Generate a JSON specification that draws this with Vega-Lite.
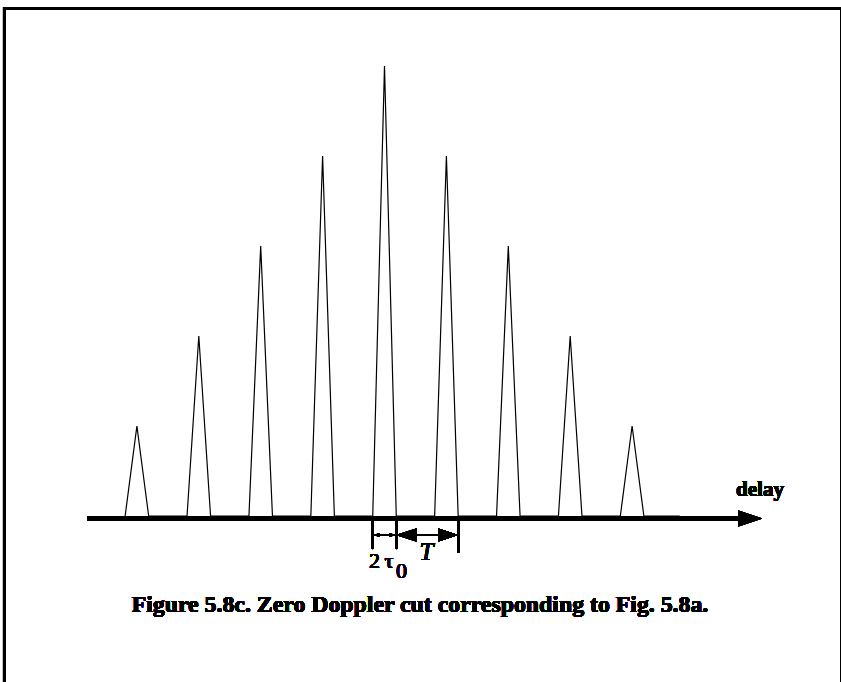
{
  "$schema": "https://vega.github.io/schema/vega-lite/v6.json",
  "width": 841,
  "height": 682,
  "autosize": {"type": "fit", "contains": "padding"},
  "padding": 0,
  "background": "white",
  "config": {"view": {"stroke": null}},
  "data": {
    "values": [
      {"delay": -4.19, "amplitude": 0},
      {"delay": -4.0, "amplitude": 1},
      {"delay": -3.81, "amplitude": 0},
      {"delay": -3.19, "amplitude": 0},
      {"delay": -3.0, "amplitude": 2},
      {"delay": -2.81, "amplitude": 0},
      {"delay": -2.19, "amplitude": 0},
      {"delay": -2.0, "amplitude": 3},
      {"delay": -1.81, "amplitude": 0},
      {"delay": -1.19, "amplitude": 0},
      {"delay": -1.0, "amplitude": 4},
      {"delay": -0.81, "amplitude": 0},
      {"delay": -0.19, "amplitude": 0},
      {"delay": 0.0, "amplitude": 5},
      {"delay": 0.19, "amplitude": 0},
      {"delay": 0.81, "amplitude": 0},
      {"delay": 1.0, "amplitude": 4},
      {"delay": 1.19, "amplitude": 0},
      {"delay": 1.81, "amplitude": 0},
      {"delay": 2.0, "amplitude": 3},
      {"delay": 2.19, "amplitude": 0},
      {"delay": 2.81, "amplitude": 0},
      {"delay": 3.0, "amplitude": 2},
      {"delay": 3.19, "amplitude": 0},
      {"delay": 3.81, "amplitude": 0},
      {"delay": 4.0, "amplitude": 1},
      {"delay": 4.19, "amplitude": 0},
      {"delay": 4.77, "amplitude": 0}
    ]
  },
  "resolve": {"scale": {"x": "shared", "y": "shared"}},
  "layer": [
    {
      "description": "figure frame: left edge",
      "mark": {"type": "rule", "color": "black", "strokeWidth": 3, "clip": true},
      "encoding": {
        "x": {"datum": -6.139, "type": "quantitative", "scale": {"domain": [-6.2116, 7.3748], "nice": false, "zero": false}, "axis": null},
        "y": {"datum": 5.656, "type": "quantitative", "scale": {"domain": [-1.8444, 5.7333], "nice": false, "zero": false}, "axis": null},
        "y2": {"datum": -1.95}
      }
    },
    {
      "description": "figure frame: top edge",
      "mark": {"type": "rule", "color": "black", "strokeWidth": 3, "clip": true},
      "encoding": {
        "x": {"datum": -6.163, "type": "quantitative"},
        "x2": {"datum": 7.40},
        "y": {"datum": 5.639, "type": "quantitative"}
      }
    },
    {
      "description": "figure frame: right edge",
      "mark": {"type": "rule", "color": "black", "strokeWidth": 3, "clip": true},
      "encoding": {
        "x": {"datum": 7.383, "type": "quantitative"},
        "y": {"datum": 5.656, "type": "quantitative"},
        "y2": {"datum": -1.95}
      }
    },
    {
      "description": "delay axis line",
      "mark": {"type": "rule", "color": "black", "strokeWidth": 3.3, "clip": true},
      "encoding": {
        "x": {"datum": -4.806, "type": "quantitative"},
        "x2": {"datum": 6.0},
        "y": {"datum": -0.028, "type": "quantitative"}
      }
    },
    {
      "description": "delay axis arrowhead",
      "mark": {"type": "point", "shape": "M0,0L-2,-0.667L-2,0.667Z", "size": 576, "filled": true, "color": "black", "opacity": 1, "strokeWidth": 0, "clip": true},
      "encoding": {
        "x": {"datum": 6.099, "type": "quantitative"},
        "y": {"datum": -0.028, "type": "quantitative"}
      }
    },
    {
      "description": "zero Doppler cut: triangular pulse train",
      "mark": {"type": "line", "color": "black", "strokeWidth": 1.2, "clip": true},
      "encoding": {
        "x": {"field": "delay", "type": "quantitative"},
        "y": {"field": "amplitude", "type": "quantitative"}
      }
    },
    {
      "description": "dimension ticks",
      "mark": {"type": "rule", "color": "black", "strokeWidth": 2, "clip": true},
      "encoding": {
        "x": {"datum": -0.19, "type": "quantitative"},
        "y": {"datum": -0.056, "type": "quantitative"},
        "y2": {"datum": -0.367}
      }
    },
    {
      "mark": {"type": "rule", "color": "black", "strokeWidth": 2, "clip": true},
      "encoding": {
        "x": {"datum": 0.19, "type": "quantitative"},
        "y": {"datum": -0.056, "type": "quantitative"},
        "y2": {"datum": -0.367}
      }
    },
    {
      "mark": {"type": "rule", "color": "black", "strokeWidth": 2, "clip": true},
      "encoding": {
        "x": {"datum": 1.19, "type": "quantitative"},
        "y": {"datum": -0.056, "type": "quantitative"},
        "y2": {"datum": -0.411}
      }
    },
    {
      "description": "pulse width dimension (2 tau0)",
      "mark": {"type": "rule", "color": "black", "strokeWidth": 1, "clip": true},
      "encoding": {
        "x": {"datum": -0.19, "type": "quantitative"},
        "x2": {"datum": 0.19},
        "y": {"datum": -0.211, "type": "quantitative"}
      }
    },
    {
      "mark": {"type": "point", "shape": "M0,0L2,-0.67L2,0.67Z", "size": 36, "filled": true, "color": "black", "opacity": 1, "strokeWidth": 0, "clip": true},
      "encoding": {
        "x": {"datum": -0.175, "type": "quantitative"},
        "y": {"datum": -0.211, "type": "quantitative"}
      }
    },
    {
      "mark": {"type": "point", "shape": "M0,0L-2,-0.67L-2,0.67Z", "size": 36, "filled": true, "color": "black", "opacity": 1, "strokeWidth": 0, "clip": true},
      "encoding": {
        "x": {"datum": 0.175, "type": "quantitative"},
        "y": {"datum": -0.211, "type": "quantitative"}
      }
    },
    {
      "description": "pulse period dimension (T)",
      "mark": {"type": "rule", "color": "black", "strokeWidth": 2, "clip": true},
      "encoding": {
        "x": {"datum": 0.19, "type": "quantitative"},
        "x2": {"datum": 1.19},
        "y": {"datum": -0.211, "type": "quantitative"}
      }
    },
    {
      "mark": {"type": "point", "shape": "M0,0L2,-0.65L2,0.65Z", "size": 400, "filled": true, "color": "black", "opacity": 1, "strokeWidth": 0, "clip": true},
      "encoding": {
        "x": {"datum": 0.19, "type": "quantitative"},
        "y": {"datum": -0.211, "type": "quantitative"}
      }
    },
    {
      "mark": {"type": "point", "shape": "M0,0L-2,-0.65L-2,0.65Z", "size": 400, "filled": true, "color": "black", "opacity": 1, "strokeWidth": 0, "clip": true},
      "encoding": {
        "x": {"datum": 1.19, "type": "quantitative"},
        "y": {"datum": -0.211, "type": "quantitative"}
      }
    },
    {
      "mark": {"type": "text", "text": "2", "font": "Liberation Serif", "fontSize": 22, "align": "center", "baseline": "alphabetic", "color": "black"},
      "encoding": {
        "x": {"datum": -0.1616, "type": "quantitative"},
        "y": {"datum": -0.5778, "type": "quantitative"}
      }
    },
    {
      "mark": {"type": "text", "text": "τ", "font": "Liberation Serif", "fontSize": 22, "align": "center", "baseline": "alphabetic", "color": "black"},
      "encoding": {
        "x": {"datum": 0.0727, "type": "quantitative"},
        "y": {"datum": -0.5778, "type": "quantitative"}
      }
    },
    {
      "mark": {"type": "text", "text": "0", "font": "Liberation Serif", "fontSize": 22, "align": "center", "baseline": "alphabetic", "color": "black"},
      "encoding": {
        "x": {"datum": 0.2746, "type": "quantitative"},
        "y": {"datum": -0.6889, "type": "quantitative"}
      }
    },
    {
      "mark": {"type": "text", "text": "T", "font": "Liberation Serif", "fontSize": 25, "fontStyle": "italic", "align": "center", "baseline": "alphabetic", "color": "black"},
      "encoding": {
        "x": {"datum": 0.6785, "type": "quantitative"},
        "y": {"datum": -0.4889, "type": "quantitative"}
      }
    },
    {
      "mark": {"type": "text", "text": "delay", "font": "Liberation Serif", "fontSize": 21, "fontWeight": "bold", "align": "center", "baseline": "alphabetic", "color": "black"},
      "encoding": {
        "x": {"datum": 6.066, "type": "quantitative"},
        "y": {"datum": 0.2222, "type": "quantitative"}
      }
    },
    {
      "mark": {"type": "text", "text": "Figure 5.8c. Zero Doppler cut corresponding to Fig. 5.8a.", "font": "Liberation Serif", "fontSize": 23.8, "fontWeight": "bold", "align": "center", "baseline": "alphabetic", "color": "black"},
      "encoding": {
        "x": {"datum": 0.5735, "type": "quantitative"},
        "y": {"datum": -1.0667, "type": "quantitative"}
      }
    }
  ]
}
